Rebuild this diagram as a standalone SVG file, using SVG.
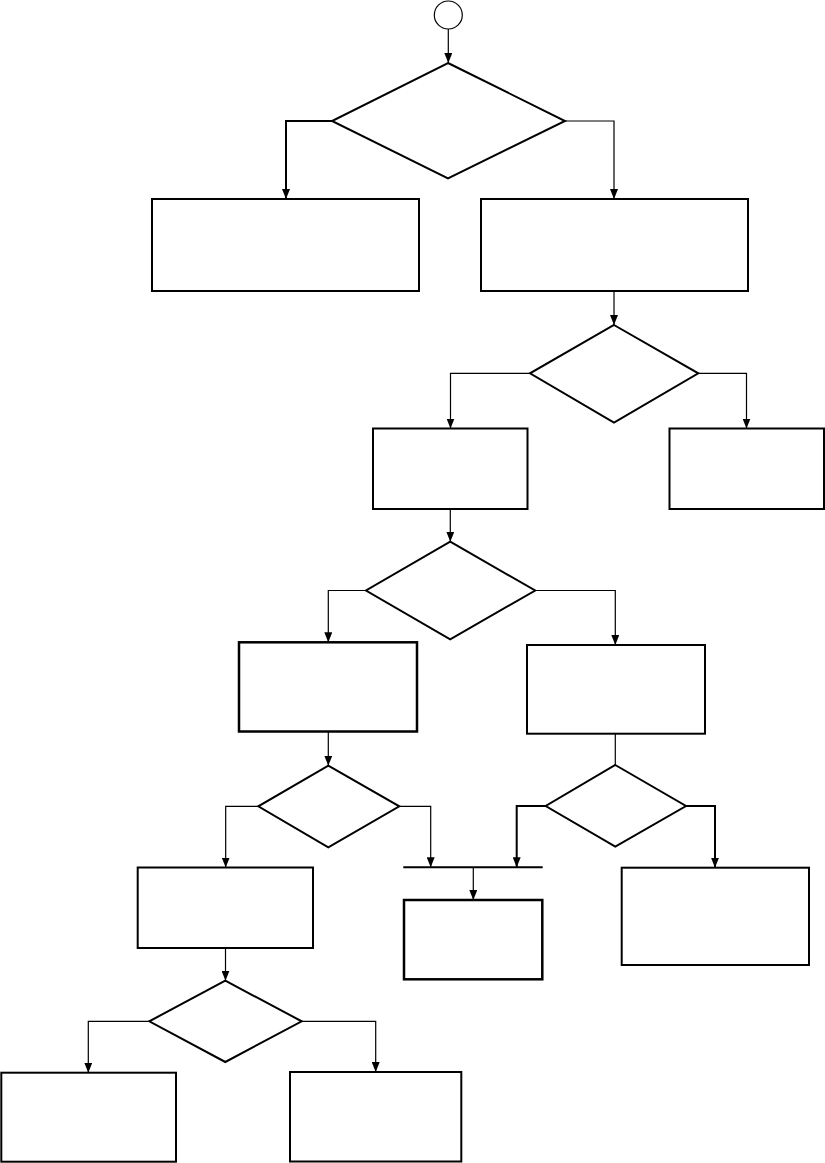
<svg xmlns="http://www.w3.org/2000/svg" width="825" height="1163" viewBox="0 0 825 1163">
<style>
.box{fill:#fff;stroke:#000;stroke-width:2}
.dec{fill:#fff;stroke:#000;stroke-width:2;stroke-linejoin:miter}
.term{fill:#fff;stroke:#000;stroke-width:1.2}
.con{fill:none;stroke:#000;stroke-width:1.2}
.thick{stroke-width:2}
</style>
<defs>
<marker id="arr" markerUnits="userSpaceOnUse" markerWidth="10" markerHeight="8" refX="10" refY="4" orient="auto">
<path d="M0,0 L10,4 L0,8 z" fill="#000"/>
</marker>
</defs>
<rect width="825" height="1163" fill="#fff"/>
<g id="start"><circle class="term" cx="448.3" cy="15" r="14"/></g>
<g id="d1"><polygon class="dec" points="448,63 565,121 448,178.3 332,121"/></g>
<g id="b1"><rect class="box" x="152" y="199" width="267" height="92"/></g>
<g id="b2"><rect class="box" x="481" y="199" width="267" height="92"/></g>
<g id="d2"><polygon class="dec" points="614,325 698.3,373.3 614,422.7 530,373.3"/></g>
<g id="b3"><rect class="box" x="373" y="428.5" width="154.5" height="80.5"/></g>
<g id="b4"><rect class="box" x="669.5" y="428.5" width="154.5" height="80.5"/></g>
<g id="d3"><polygon class="dec" points="450.2,541.7 535.2,590.5 450.2,639.3 366,590.5"/></g>
<g id="b5"><rect class="box" x="239" y="642.3" width="178" height="89.2" style="stroke-width:2.5"/></g>
<g id="b6"><rect class="box" x="527" y="645" width="178" height="88.7"/></g>
<g id="d4"><polygon class="dec" points="328.3,765.7 399.3,806.3 328.3,847.3 258.3,806.3"/></g>
<g id="d5"><polygon class="dec" points="615.3,765 686,806 615.3,846.7 545.7,806"/></g>
<g id="b7"><rect class="box" x="137.7" y="867.5" width="175.3" height="80.5"/></g>
<g id="b8"><rect class="box" x="621.7" y="867.7" width="187.3" height="97.3"/></g>
<g id="b9"><rect class="box" x="404" y="900" width="138.3" height="79.3" style="stroke-width:2.5"/></g>
<g id="d6"><polygon class="dec" points="225.3,980.7 301.7,1021.3 225.3,1062 149.3,1021.3"/></g>
<g id="b10"><rect class="box" x="1.3" y="1072.7" width="174.7" height="89"/></g>
<g id="b11"><rect class="box" x="290" y="1072" width="171.3" height="89.5"/></g>
<g id="connectors">
<path class="con" d="M448.3,29 V63" marker-end="url(#arr)"/>
<path class="con thick" d="M332,121 H286 V199" marker-end="url(#arr)"/>
<path class="con" d="M565,121 H614 V199" marker-end="url(#arr)"/>
<path class="con" d="M614,291 V325" marker-end="url(#arr)"/>
<path class="con" d="M530,373.3 H450.5 V428.5" marker-end="url(#arr)"/>
<path class="con" d="M698.3,373.3 H746.5 V428.5" marker-end="url(#arr)"/>
<path class="con" d="M450.3,509 V541.7" marker-end="url(#arr)"/>
<path class="con" d="M366,590.5 H328.3 V642.3" marker-end="url(#arr)"/>
<path class="con" d="M535.2,590.5 H615.3 V645" marker-end="url(#arr)"/>
<path class="con" d="M328.3,731.5 V765.7" marker-end="url(#arr)"/>
<path class="con" d="M615.3,733.7 V765"/>
<path class="con" d="M258.3,806.3 H225.7 V867.5" marker-end="url(#arr)"/>
<path class="con" d="M399.3,806.3 H430.7 V867.3" marker-end="url(#arr)"/>
<path class="con thick" d="M545.7,806 H516.7 V867.3" marker-end="url(#arr)"/>
<path class="con thick" d="M686,806 H715 V867.7" marker-end="url(#arr)"/>
<path class="con thick" d="M403.3,867.3 H542.7"/>
<path class="con" d="M473.3,867.3 V900" marker-end="url(#arr)"/>
<path class="con" d="M225.5,948 V980.7" marker-end="url(#arr)"/>
<path class="con" d="M149.3,1021.3 H88.3 V1072.7" marker-end="url(#arr)"/>
<path class="con" d="M301.7,1021.3 H375.7 V1072" marker-end="url(#arr)"/>
</g>
</svg>
